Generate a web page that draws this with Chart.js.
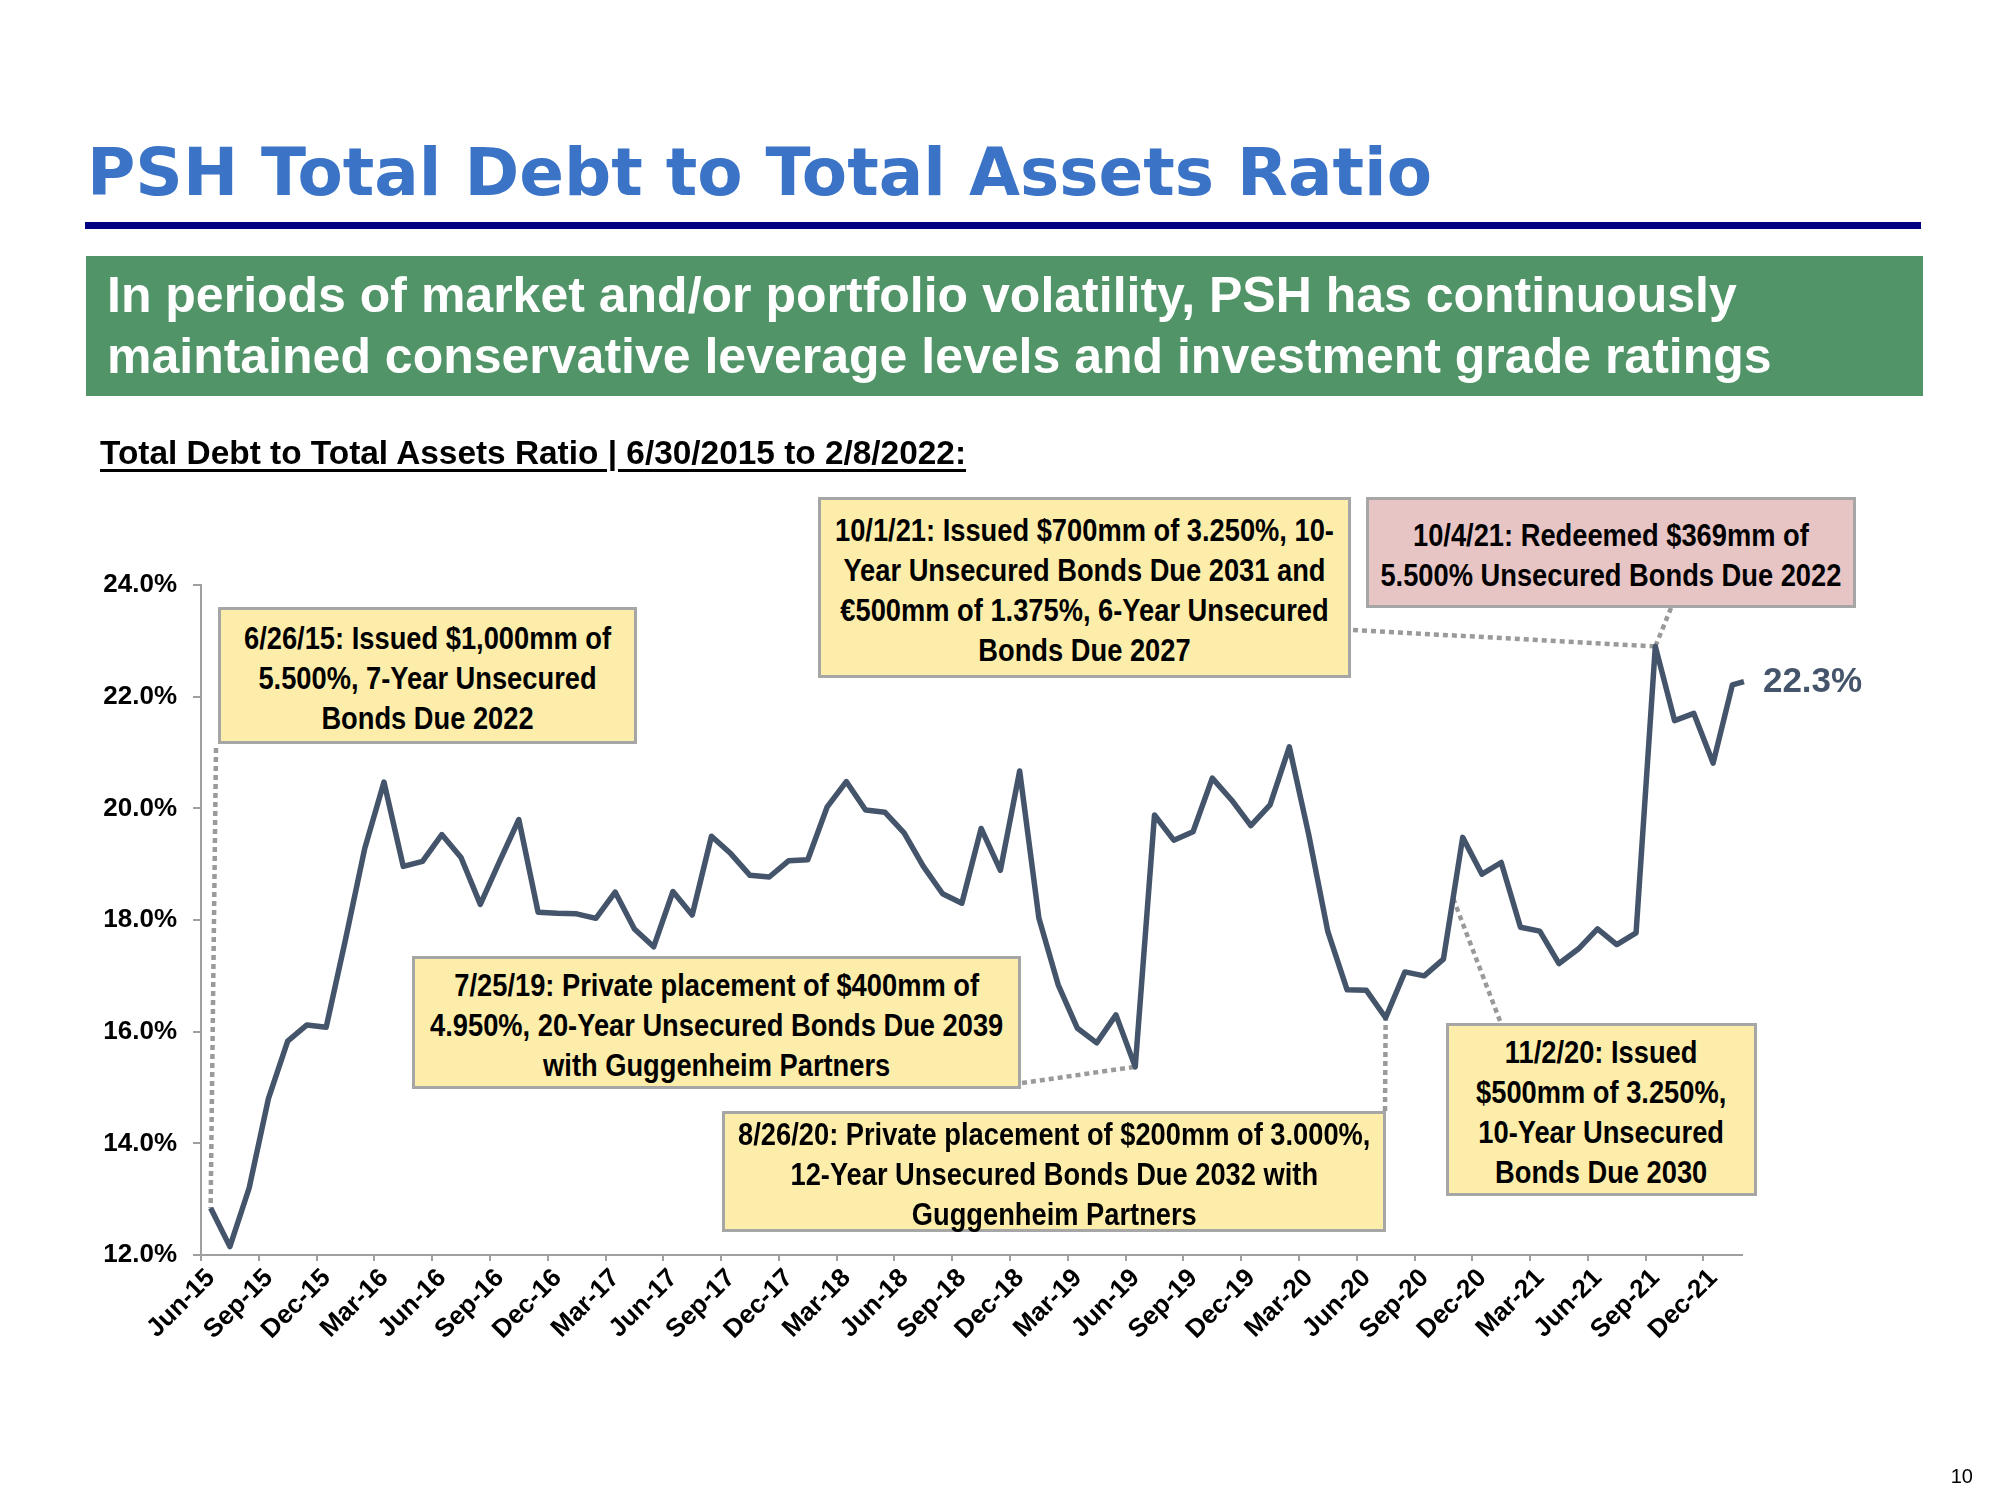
<!DOCTYPE html>
<html>
<head>
<meta charset="utf-8">
<script src="https://cdn.jsdelivr.net/npm/chart.js@4.4.1/dist/chart.umd.min.js"></script>
<style>
body { margin: 0; width: 2000px; height: 1500px; background: #fff; position: relative; overflow: hidden; font-family: "Liberation Sans", Arial, sans-serif; }
#chart { position: absolute; left: 0; top: 0; }
.title { position: absolute; left: 87px; top: 140px; font: bold 66px/65px "DejaVu Sans", sans-serif; color: #3B74C6; white-space: nowrap; }
.rule { position: absolute; left: 85px; top: 222px; width: 1836px; height: 7px; background: #000080; }
.banner { position: absolute; left: 86px; top: 256px; width: 1837px; height: 140px; background: #519467; }
.banner div { position: absolute; left: 21px; top: 9px; color: #fff; font: bold 50px/61px "Liberation Sans", Arial, sans-serif; white-space: nowrap; }
.subhead { position: absolute; left: 100px; top: 433px; font: bold 33.4px/40px "Liberation Sans", Arial, sans-serif; color: #000; text-decoration: underline; text-decoration-thickness: 3px; text-underline-offset: 5px; white-space: nowrap; }
.note { position: absolute; box-sizing: border-box; padding-top: 6px; border: 3px solid #A6A6A6; background: #FDEDAA; display: flex; align-items: center; justify-content: center; text-align: center; font: bold 31px/40px "Liberation Sans", Arial, sans-serif; color: #000; }
.note span { display: inline-block; white-space: nowrap; transform: scaleX(0.88); }
.note.pink { background: #E7C5C5; }
.page { position: absolute; right: 27px; top: 1466px; font: 20px/20px "Liberation Sans", Arial, sans-serif; color: #000; }
</style>
</head>
<body>
<canvas id="chart" width="2000" height="1500"></canvas>
<div class="title">PSH Total Debt to Total Assets Ratio</div>
<div class="rule"></div>
<div class="banner"><div>In periods of market and/or portfolio volatility, PSH has continuously<br>maintained conservative leverage levels and investment grade ratings</div></div>
<div class="subhead">Total Debt to Total Assets Ratio | 6/30/2015 to 2/8/2022:</div>
<div id="notes"></div>
<div class="page">10</div>
<script>
// month-end readings, Jun-15 .. Jan-22
var monthlyRatio = [
	12.84, 12.15, 13.2, 14.8, 15.83, 16.12, 16.08, 17.65, 19.28, 20.47,
	18.96, 19.05, 19.53, 19.12, 18.28, 19.05, 19.8, 18.14, 18.12, 18.11,
	18.03, 18.5, 17.84, 17.52, 18.51, 18.09, 19.5, 19.19, 18.8, 18.77,
	19.06, 19.08, 20.02, 20.48, 19.97, 19.93, 19.56, 18.96, 18.47, 18.3,
	19.64, 18.89, 20.67, 18.03, 16.84, 16.06, 15.8, 16.3, 15.37, 19.88,
	19.43, 19.58, 20.54, 20.15, 19.69, 20.06, 21.1, 19.54, 17.79, 16.75,
	16.74, 16.25, 17.07, 17.0, 17.3, 19.48, 18.82, 19.03, 17.87, 17.8,
	17.22, 17.48, 17.84, 17.56, 17.77, 22.9, 21.57, 21.7, 20.81, 22.21
];
// 2/8/2022 reading, plotted just past the Jan-22 month
var latestRatio = 22.27;
var latestOffset = 0.6;

var tickLabels = ['Jun-15', 'Sep-15', 'Dec-15', 'Mar-16', 'Jun-16', 'Sep-16', 'Dec-16', 'Mar-17', 'Jun-17',
	'Sep-17', 'Dec-17', 'Mar-18', 'Jun-18', 'Sep-18', 'Dec-18', 'Mar-19', 'Jun-19', 'Sep-19', 'Dec-19',
	'Mar-20', 'Jun-20', 'Sep-20', 'Dec-20', 'Mar-21', 'Jun-21', 'Sep-21', 'Dec-21'];

var noteTexts = [
	'6/26/15: Issued $1,000mm of<br>5.500%, 7-Year Unsecured<br>Bonds Due 2022',
	'7/25/19: Private placement of $400mm of<br>4.950%, 20-Year Unsecured Bonds Due 2039<br>with Guggenheim Partners',
	'8/26/20: Private placement of $200mm of 3.000%,<br>12-Year Unsecured Bonds Due 2032 with<br>Guggenheim Partners',
	'11/2/20: Issued<br>$500mm of 3.250%,<br>10-Year Unsecured<br>Bonds Due 2030',
	'10/1/21: Issued $700mm of 3.250%, 10-<br>Year Unsecured Bonds Due 2031 and<br>€500mm of 1.375%, 6-Year Unsecured<br>Bonds Due 2027',
	'10/4/21: Redeemed $369mm of<br>5.500% Unsecured Bonds Due 2022'
];
// month index each note points at
var noteTargets = [0, 48, 61, 64.5, 75, 75];

// layout of the callout boxes and where their leaders leave them
var noteLayout = [
	{ box: [218, 607, 419, 137], from: [216, 748] },
	{ box: [412, 956, 609, 133], from: [1022, 1083] },
	{ box: [722, 1111, 664, 121], from: [1385, 1111] },
	{ box: [1446, 1023, 311, 173], from: [1500, 1021] },
	{ box: [818, 497, 533, 181], from: [1353, 630] },
	{ box: [1366, 497, 490, 111], from: [1671, 608], pink: true }
];

var points = monthlyRatio.map(function(v, i) { return { x: i, y: v }; });
points.push({ x: monthlyRatio.length - 1 + latestOffset, y: latestRatio });

var noteHtml = '';
noteLayout.forEach(function(n, k) {
	noteHtml += '<div class="note' + (n.pink ? ' pink' : '') + '" style="left:' + n.box[0] + 'px;top:' + n.box[1] +
		'px;width:' + n.box[2] + 'px;height:' + n.box[3] + 'px"><span>' + noteTexts[k] + '</span></div>';
});
document.getElementById('notes').innerHTML = noteHtml;

function valueAt(t) {
	var i0 = Math.floor(t), f = t - i0;
	if (!f) return monthlyRatio[i0];
	return monthlyRatio[i0] * (1 - f) + monthlyRatio[i0 + 1] * f;
}

var calloutPlugin = {
	id: 'callouts',
	beforeDatasetsDraw: function(chart) {
		var ctx = chart.ctx, xs = chart.scales.x, ys = chart.scales.y;
		ctx.save();
		ctx.strokeStyle = '#9A9A9A';
		ctx.lineWidth = 4.5;
		ctx.setLineDash([5, 4]);
		noteLayout.forEach(function(n, k) {
			var t = noteTargets[k];
			ctx.beginPath();
			ctx.moveTo(n.from[0], n.from[1]);
			ctx.lineTo(xs.getPixelForValue(t), ys.getPixelForValue(valueAt(t)));
			ctx.stroke();
		});
		ctx.restore();
	},
	afterDatasetsDraw: function(chart) {
		var ctx = chart.ctx, xs = chart.scales.x, ys = chart.scales.y;
		var last = points[points.length - 1];
		ctx.save();
		ctx.fillStyle = '#44546A';
		ctx.font = 'bold 35px "Liberation Sans", Arial, sans-serif';
		ctx.textBaseline = 'middle';
		ctx.fillText(last.y.toFixed(1) + '%', xs.getPixelForValue(last.x) + 19, ys.getPixelForValue(last.y) + 1);
		ctx.restore();
	}
};

var axisGrey = '#A0A0A0';

var config = {
	type: 'line',
	data: {
		datasets: [
			{
				data: points,
				borderColor: '#44546A',
				borderWidth: 5.5,
				borderJoinStyle: 'round',
				pointRadius: 0,
				tension: 0,
				clip: false
			}
		]
	},
	options: {
		responsive: false,
		animation: false,
		layout: { padding: { top: 585, right: 258, bottom: 0, left: 0 } },
		plugins: {
			legend: { display: false },
			tooltip: { enabled: false }
		},
		scales: {
			x: {
				type: 'linear',
				min: -0.5,
				max: monthlyRatio.length - 0.5,
				afterBuildTicks: function(scale) {
					scale.ticks = tickLabels.map(function(l, k) { return { value: k * 3 - 0.5 }; });
				},
				afterFit: function(scale) { scale.height = 245; },
				ticks: {
					autoSkip: false,
					minRotation: 45,
					maxRotation: 45,
					labelOffset: 10,
					padding: 2,
					color: '#000',
					font: { family: '"Liberation Sans", Arial, sans-serif', size: 26, weight: 'bold' },
					callback: function(v, i) { return tickLabels[i]; }
				},
				grid: { drawOnChartArea: false, tickLength: 6, color: axisGrey, lineWidth: 2 },
				border: { color: axisGrey, width: 2 }
			},
			y: {
				min: 12,
				max: 24,
				afterFit: function(scale) { scale.width = 201; },
				ticks: {
					stepSize: 2,
					padding: 16,
					color: '#000',
					font: { family: '"Liberation Sans", Arial, sans-serif', size: 26, weight: 'bold' },
					callback: function(v) { return v.toFixed(1) + '%'; }
				},
				grid: { drawOnChartArea: false, tickLength: 8, color: axisGrey, lineWidth: 2 },
				border: { color: axisGrey, width: 2 }
			}
		}
	},
	plugins: [calloutPlugin]
};

var chart01 = new Chart(document.getElementById('chart').getContext('2d'), config);
</script>
</body>
</html>
